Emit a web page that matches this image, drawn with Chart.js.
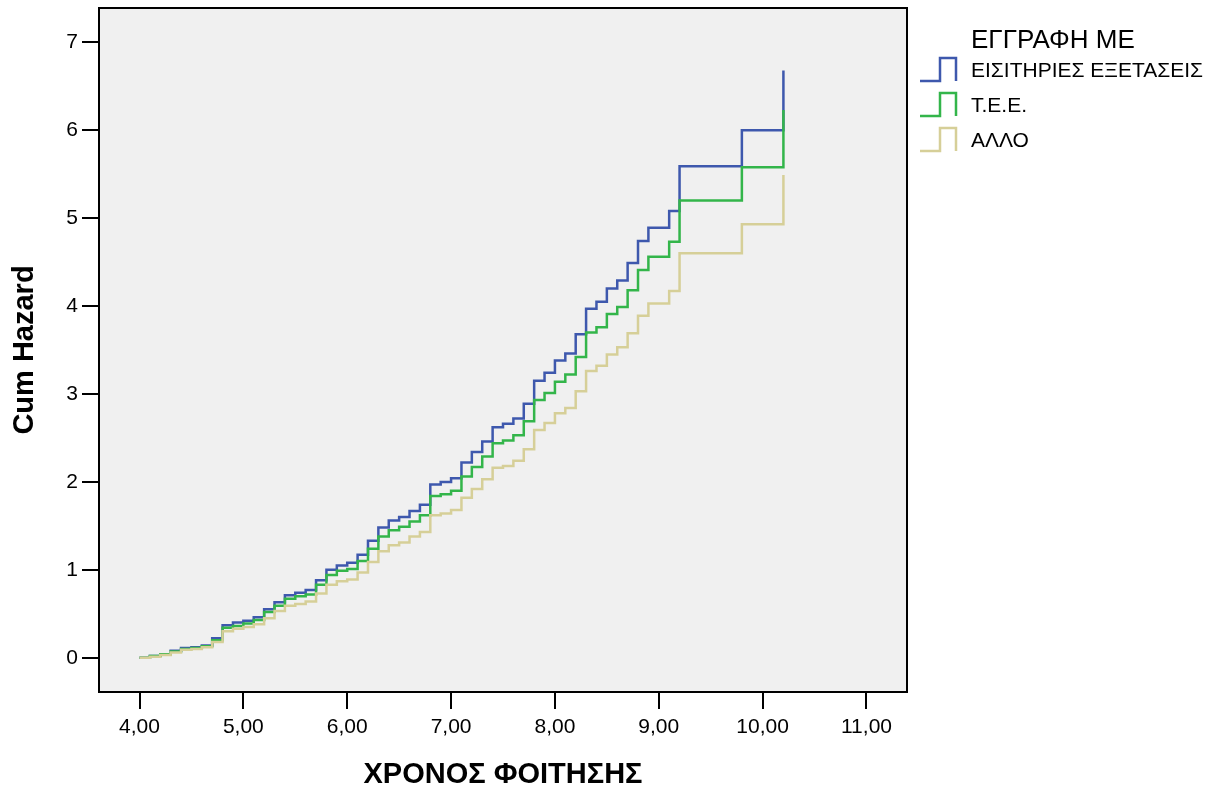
<!DOCTYPE html>
<html>
<head>
<meta charset="utf-8">
<script src="https://cdn.jsdelivr.net/npm/chart.js@4.4.1/dist/chart.umd.min.js"></script>
<style>
  html, body { margin: 0; padding: 0; background: #fff; }
  #wrap { width: 1226px; height: 794px; position: relative; }
</style>
</head>
<body>
<div id="wrap"><canvas id="chart"></canvas></div>
<script>
// event times (years of study)
var times = [4.0, 4.1, 4.2, 4.3, 4.4, 4.5, 4.6, 4.7, 4.8, 4.9,
             5.0, 5.1, 5.2, 5.3, 5.4, 5.5, 5.6, 5.7, 5.8, 5.9,
             6.0, 6.1, 6.2, 6.3, 6.4, 6.5, 6.6, 6.7, 6.8, 6.9,
             7.0, 7.1, 7.2, 7.3, 7.4, 7.5, 7.6, 7.7, 7.8, 7.9,
             8.0, 8.1, 8.2, 8.3, 8.4, 8.5, 8.6, 8.7, 8.8, 8.9,
             9.1, 9.2, 9.8, 10.2]

var exams = [0, 0.02, 0.04, 0.08, 0.11, 0.12, 0.14, 0.22, 0.37, 0.40,
             0.42, 0.46, 0.55, 0.63, 0.71, 0.74, 0.77, 0.88, 1.00, 1.05,
             1.08, 1.17, 1.33, 1.48, 1.56, 1.60, 1.67, 1.74, 1.97, 2.00,
             2.04, 2.22, 2.34, 2.46, 2.62, 2.66, 2.72, 2.89, 3.15, 3.24,
             3.38, 3.46, 3.68, 3.97, 4.05, 4.20, 4.29, 4.49, 4.74, 4.89,
             5.08, 5.59, 6.00, 6.68]

var tee = [0, 0.02, 0.04, 0.07, 0.10, 0.11, 0.13, 0.20, 0.34, 0.36,
           0.39, 0.43, 0.52, 0.59, 0.67, 0.70, 0.72, 0.83, 0.94, 0.99,
           1.01, 1.10, 1.24, 1.38, 1.45, 1.49, 1.55, 1.62, 1.84, 1.86,
           1.90, 2.06, 2.17, 2.29, 2.44, 2.47, 2.53, 2.69, 2.93, 3.01,
           3.14, 3.22, 3.42, 3.70, 3.76, 3.91, 3.99, 4.18, 4.41, 4.56,
           4.73, 5.20, 5.58, 6.23]

var other = [0, 0.01, 0.03, 0.06, 0.09, 0.10, 0.12, 0.18, 0.30, 0.33,
             0.35, 0.38, 0.45, 0.53, 0.59, 0.61, 0.64, 0.73, 0.83, 0.87,
             0.89, 0.97, 1.09, 1.21, 1.28, 1.31, 1.38, 1.43, 1.62, 1.64,
             1.68, 1.82, 1.92, 2.03, 2.16, 2.18, 2.24, 2.37, 2.59, 2.67,
             2.78, 2.84, 3.03, 3.26, 3.32, 3.45, 3.53, 3.69, 3.89, 4.03,
             4.17, 4.60, 4.93, 5.49]

var groupNames = ['ΕΙΣΙΤΗΡΙΕΣ ΕΞΕΤΑΣΕΙΣ', 'Τ.Ε.Ε.', 'ΑΛΛΟ']
var groupColors = ['#3e58ad', '#33b54a', '#d6cf98']
var xTicks = [4, 5, 6, 7, 8, 9, 10, 11]
var yTicks = [0, 1, 2, 3, 4, 5, 6, 7]

var font = 'Arial, "Liberation Sans", sans-serif'

function toPoints(ys) {
    return times.map((t, i) => ({ x: t, y: ys[i] }))
}

var frame = {
    id: 'frame',
    beforeDatasetsDraw(chart) {
        var a = chart.chartArea, ctx = chart.ctx
        ctx.save()
        ctx.fillStyle = '#f0f0f0'
        ctx.fillRect(a.left, a.top, a.right - a.left, a.bottom - a.top)
        ctx.restore()
    },
    afterDraw(chart) {
        var a = chart.chartArea, ctx = chart.ctx
        ctx.save()
        ctx.strokeStyle = '#000'
        ctx.lineWidth = 2
        ctx.strokeRect(a.left, a.top, a.right - a.left, a.bottom - a.top)

        // legend, SPSS style
        ctx.fillStyle = '#000'
        ctx.textBaseline = 'alphabetic'
        ctx.font = '26px ' + font
        ctx.fillText('ΕΓΓΡΑΦΗ ΜΕ', 971, 48)
        ctx.font = '21px ' + font
        groupNames.forEach((name, i) => {
            var base = 81 + i * 35
            ctx.strokeStyle = groupColors[i]
            ctx.lineWidth = 2.5
            ctx.beginPath()
            ctx.moveTo(920, base)
            ctx.lineTo(940, base)
            ctx.lineTo(940, base - 23)
            ctx.lineTo(956, base - 23)
            ctx.lineTo(956, base)
            ctx.stroke()
            ctx.fillText(name, 971, base - 4)
        })
        ctx.restore()
    }
}

function noPad(s) {
    s.paddingTop = 0
    s.paddingBottom = 0
    s.paddingLeft = 0
    s.paddingRight = 0
}

var ctx = document.getElementById('chart').getContext('2d')
var myChart = new Chart(ctx, {
    type: 'line',
    data: {
        datasets: [exams, tee, other].map((ys, i) => ({
            label: groupNames[i],
            data: toPoints(ys),
            borderColor: groupColors[i],
            backgroundColor: groupColors[i],
            borderWidth: 2.5,
            pointRadius: 0,
            stepped: true,
            fill: false
        })).reverse()
    },
    options: {
        responsive: true,
        maintainAspectRatio: false,
        animation: false,
        layout: { padding: { left: 0, right: 319, top: 8, bottom: 0 } },
        plugins: {
            legend: { display: false },
            tooltip: { enabled: false }
        },
        scales: {
            x: {
                type: 'linear',
                min: 3.61,
                max: 11.39,
                afterBuildTicks: s => { s.ticks = xTicks.map(v => ({ value: v })) },
                afterFit: s => { s.height = 102; noPad(s) },
                ticks: {
                    color: '#000',
                    padding: 6,
                    font: { family: font, size: 21 },
                    callback: v => v.toFixed(2).replace('.', ',')
                },
                grid: { drawOnChartArea: false, tickLength: 17, color: '#000', lineWidth: 2 },
                border: { display: false },
                title: {
                    display: true,
                    text: 'ΧΡΟΝΟΣ ΦΟΙΤΗΣΗΣ',
                    color: '#000',
                    font: { family: font, size: 29, weight: 'bold' },
                    padding: { top: 0, bottom: 2 }
                }
            },
            y: {
                min: -0.39,
                max: 7.39,
                afterBuildTicks: s => { s.ticks = yTicks.map(v => ({ value: v })) },
                afterFit: s => { s.width = 99; noPad(s) },
                ticks: {
                    color: '#000',
                    padding: 4,
                    font: { family: font, size: 21 }
                },
                grid: { drawOnChartArea: false, tickLength: 17, color: '#000', lineWidth: 2 },
                border: { display: false },
                title: {
                    display: true,
                    text: 'Cum Hazard',
                    color: '#000',
                    font: { family: font, size: 29, weight: 'bold' },
                    padding: { top: 8, bottom: 0 }
                }
            }
        }
    },
    plugins: [frame]
})
</script>
</body>
</html>
